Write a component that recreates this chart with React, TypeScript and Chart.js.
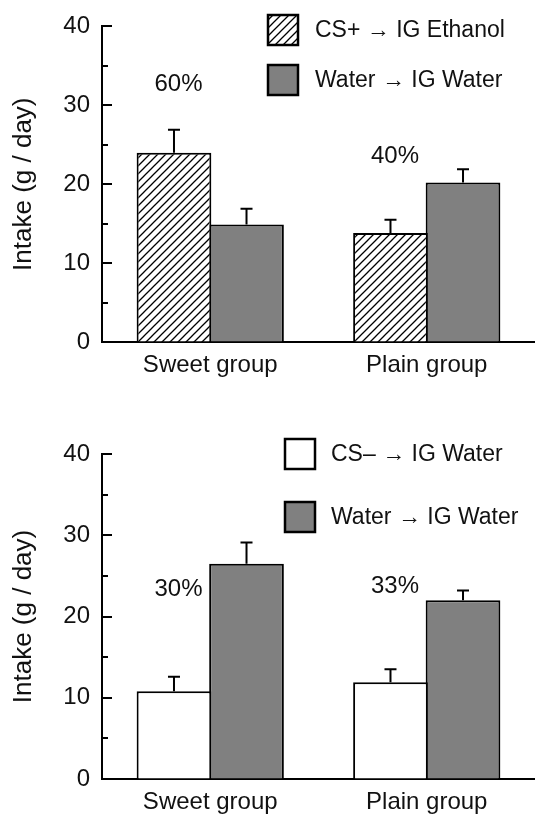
import React, { useEffect, useRef } from "react";
import { Chart, registerables } from "chart.js";

Chart.register(...registerables);

// ---------- data ----------
const categories = ["Sweet group", "Plain group"];

// top panel
const topLabelA = "CS+ \u2192 IG Ethanol";
const topValuesA = [24.0, 13.8];
const topErrorsA = [2.9, 1.7];
const topLabelB = "Water \u2192 IG Water";
const topValuesB = [14.9, 20.2];
const topErrorsB = [2.0, 1.7];
const topPctTexts = ["60%", "40%"];
const topPctValues = [32.6, 23.5];

// bottom panel
const botLabelA = "CS\u2013 \u2192 IG Water";
const botValuesA = [10.8, 11.9];
const botErrorsA = [1.8, 1.6];
const botLabelB = "Water \u2192 IG Water";
const botValuesB = [26.5, 22.0];
const botErrorsB = [2.6, 1.2];
const botPctTexts = ["30%", "33%"];
const botPctValues = [23.3, 23.7];

const yTickValues = [0, 10, 20, 30, 40];
const yTitle = "Intake (g / day)";

// ---------- styles ----------
const FONT = "'Liberation Sans', Arial, Helvetica, sans-serif";
const INK = "#111";
const GRAY = "#808080";

function makeHatch(): CanvasPattern | string {
  const s = 8;
  const c = document.createElement("canvas");
  c.width = s;
  c.height = s;
  const g = c.getContext("2d");
  if (!g) return "#fff";
  g.fillStyle = "#fff";
  g.fillRect(0, 0, s, s);
  g.strokeStyle = "#000";
  g.lineWidth = 1.3;
  g.beginPath();
  g.moveTo(0, s);
  g.lineTo(s, 0);
  g.moveTo(-2, 2);
  g.lineTo(2, -2);
  g.moveTo(s - 2, s + 2);
  g.lineTo(s + 2, s - 2);
  g.stroke();
  const p = g.createPattern(c, "repeat");
  return p || "#fff";
}

const errorBarsPlugin = {
  id: "errorBars",
  afterDatasetsDraw(chart: any) {
    const ctx = chart.ctx;
    const ys = chart.scales.y;
    chart.data.datasets.forEach((ds: any, i: number) => {
      const meta = chart.getDatasetMeta(i);
      meta.data.forEach((bar: any, j: number) => {
        const v = ds.data[j];
        const e = ds.errors ? ds.errors[j] : 0;
        if (!e) return;
        const top = ys.getPixelForValue(v + e);
        ctx.save();
        ctx.strokeStyle = "#000";
        ctx.lineWidth = 2;
        ctx.beginPath();
        ctx.moveTo(bar.x, bar.y);
        ctx.lineTo(bar.x, top);
        ctx.moveTo(bar.x - 6, top);
        ctx.lineTo(bar.x + 6, top);
        ctx.stroke();
        ctx.restore();
      });
    });
  },
};

const inwardTicksPlugin = {
  id: "inwardTicks",
  afterDraw(chart: any) {
    const ctx = chart.ctx;
    const ys = chart.scales.y;
    const x = chart.chartArea.left;
    ctx.save();
    ctx.strokeStyle = "#000";
    ctx.lineWidth = 2;
    ys.ticks.forEach((t: any) => {
      if (t.value === 0) return;
      const py = Math.round(ys.getPixelForValue(t.value));
      const len = yTickValues.includes(t.value) ? 10 : 6;
      ctx.beginPath();
      ctx.moveTo(x, py);
      ctx.lineTo(x + len, py);
      ctx.stroke();
    });
    ctx.restore();
  },
};

const pctLabelsPlugin = {
  id: "pctLabels",
  afterDatasetsDraw(chart: any, _args: any, opts: any) {
    if (!opts || !opts.texts) return;
    const ctx = chart.ctx;
    const ys = chart.scales.y;
    const meta = chart.getDatasetMeta(0);
    ctx.save();
    ctx.fillStyle = INK;
    ctx.font = `24px ${FONT}`;
    ctx.textAlign = "center";
    ctx.textBaseline = "middle";
    opts.texts.forEach((t: string, j: number) => {
      const bar = meta.data[j];
      ctx.fillText(t, bar.x + (opts.dx || 0), ys.getPixelForValue(opts.values[j]));
    });
    ctx.restore();
  },
};

const boxLegendPlugin = {
  id: "boxLegend",
  afterDraw(chart: any, _args: any, opts: any) {
    if (!opts || opts.x == null) return;
    const ctx = chart.ctx;
    const size = opts.size || 30;
    ctx.save();
    chart.data.datasets.forEach((ds: any, i: number) => {
      const bx = opts.x;
      const by = opts.ys[i];
      ctx.fillStyle = ds.backgroundColor;
      ctx.fillRect(bx, by, size, size);
      ctx.strokeStyle = "#000";
      ctx.lineWidth = 2.5;
      ctx.strokeRect(bx, by, size, size);
      ctx.fillStyle = INK;
      ctx.font = `23px ${FONT}`;
      ctx.textAlign = "left";
      ctx.textBaseline = "middle";
      ctx.fillText(ds.label, opts.textX, by + size / 2 + 1);
    });
    ctx.restore();
  },
};

function buildConfig(p: {
  labelA: string;
  valuesA: number[];
  errorsA: number[];
  fillA: any;
  labelB: string;
  valuesB: number[];
  errorsB: number[];
  pctTexts: string[];
  pctValues: number[];
  padTop: number;
  xHeight: number;
  legend: { x: number; ys: number[]; textX: number };
}): any {
  const common = {
    borderColor: "#000",
    borderWidth: 2,
    barPercentage: 1.03,
    categoryPercentage: 0.67,
  };
  return {
    type: "bar",
    data: {
      labels: categories,
      datasets: [
        { label: p.labelA, data: p.valuesA, errors: p.errorsA, backgroundColor: p.fillA, ...common },
        { label: p.labelB, data: p.valuesB, errors: p.errorsB, backgroundColor: GRAY, ...common },
      ],
    },
    options: {
      responsive: false,
      animation: false,
      layout: { padding: { top: p.padTop, left: 0, right: 0, bottom: 0 } },
      plugins: {
        legend: { display: false },
        tooltip: { enabled: false },
        pctLabels: { texts: p.pctTexts, values: p.pctValues, dx: 4.5 },
        boxLegend: { x: p.legend.x, ys: p.legend.ys, textX: p.legend.textX, size: 30 },
      },
      scales: {
        x: {
          grid: { drawOnChartArea: false, drawTicks: false },
          border: { display: true, color: "#000", width: 2 },
          ticks: { padding: 9, color: INK, font: { family: FONT, size: 24 } },
          afterFit: (s: any) => {
            s.height = p.xHeight;
          },
        },
        y: {
          min: 0,
          max: 40,
          ticks: {
            stepSize: 5,
            autoSkip: false,
            padding: 12,
            color: INK,
            font: { family: FONT, size: 24 },
            callback: (v: any) => (yTickValues.includes(Number(v)) ? String(v) : ""),
          },
          grid: { drawOnChartArea: false, drawTicks: false },
          border: { display: true, color: "#000", width: 2 },
          title: {
            display: true,
            text: yTitle,
            color: INK,
            font: { family: FONT, size: 26 },
            padding: { top: 8, bottom: 0 },
          },
          afterFit: (s: any) => {
            s.width = 102;
          },
        },
      },
    },
    plugins: [errorBarsPlugin, inwardTicksPlugin, pctLabelsPlugin, boxLegendPlugin],
  };
}

export default function App() {
  const topRef = useRef<HTMLCanvasElement | null>(null);
  const botRef = useRef<HTMLCanvasElement | null>(null);

  useEffect(() => {
    const hatch = makeHatch();
    const charts: Chart[] = [];
    if (topRef.current) {
      charts.push(
        new Chart(
          topRef.current,
          buildConfig({
            labelA: topLabelA,
            valuesA: topValuesA,
            errorsA: topErrorsA,
            fillA: hatch,
            labelB: topLabelB,
            valuesB: topValuesB,
            errorsB: topErrorsB,
            pctTexts: topPctTexts,
            pctValues: topPctValues,
            padTop: 18,
            xHeight: 68,
            legend: { x: 268, ys: [15, 65], textX: 315 },
          })
        )
      );
    }
    if (botRef.current) {
      charts.push(
        new Chart(
          botRef.current,
          buildConfig({
            labelA: botLabelA,
            valuesA: botValuesA,
            errorsA: botErrorsA,
            fillA: "#ffffff",
            labelB: botLabelB,
            valuesB: botValuesB,
            errorsB: botErrorsB,
            pctTexts: botPctTexts,
            pctValues: botPctValues,
            padTop: 44,
            xHeight: 41,
            legend: { x: 285, ys: [29, 92], textX: 331 },
          })
        )
      );
    }
    return () => {
      charts.forEach((c) => c.destroy());
    };
  }, []);

  return (
    <div style={{ position: "absolute", left: 0, top: 0, width: 535, height: 820, background: "#fff" }}>
      <canvas ref={topRef} width={535} height={410} style={{ display: "block" }} />
      <canvas ref={botRef} width={535} height={410} style={{ display: "block" }} />
    </div>
  );
}
